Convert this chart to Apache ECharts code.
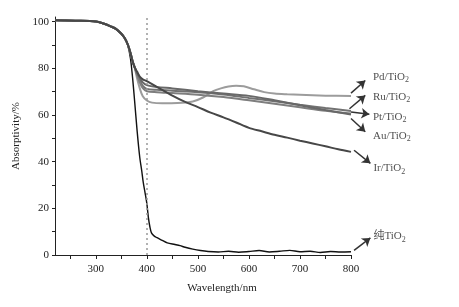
<!DOCTYPE html>
<html>
<head>
<meta charset="utf-8">
<script src="https://cdn.jsdelivr.net/npm/echarts@6/dist/echarts.min.js"></script>
<style>
  html, body { margin: 0; padding: 0; background: #fff; }
  #chart { width: 459px; height: 307px; }
</style>
</head>
<body>
<div id="chart"></div>
<script>
// 各样品的吸收曲线 [波长 nm, 吸收率 %]
const shoulder = [[220,100.6],[260,100.4],[300,100.1],[315,99.2],[330,97.9],[340,96.8],[350,94.8],[357,92.8],[363,90],[368,86.5],[372,83],[376,80.5]];

const pureTiO2 = [[220,100.6],[260,100.4],[300,100.1],[315,99.2],[330,97.9],[340,96.8],[350,94.8],[357,92.8],[363,89.5],[368,84],[372,76],[376,66],[381,53],[386,42],[390,36],[393,31],[397,26],[400,22],[403,16],[406,12],[409,9.5],[414,8.2],[420,7.4],[430,6.3],[440,5.2],[455,4.5],[465,4.0],[475,3.3],[490,2.5],[505,1.9],[520,1.5],[540,1.3],[560,1.6],[580,1.2],[600,1.5],[620,1.9],[640,1.3],[660,1.6],[680,2.0],[700,1.4],[720,1.6],[740,1.1],[760,1.5],[780,1.3],[800,1.4]];

const irTiO2 = shoulder.concat([[381,78.5],[386,76.5],[392,75.3],[400,74.5],[420,72],[450,68.3],[475,65.6],[500,63.4],[525,61],[550,59],[575,56.8],[600,54.5],[625,53],[650,51.5],[675,50.3],[700,49],[725,47.8],[750,46.6],[775,45.3],[800,44.2]]);

const auTiO2 = shoulder.concat([[381,78],[386,76],[392,74],[400,72.8],[420,72],[450,71.4],[500,70.2],[550,69.2],[600,68.2],[650,66.3],[700,64.2],[750,62.1],[800,60.2]]);

const ruTiO2 = shoulder.concat([[381,77.5],[386,75],[392,72.5],[400,71.2],[420,70.8],[450,70.4],[500,69.8],[550,68.8],[600,67.3],[650,65.9],[700,64.4],[750,63],[800,61.7]]);

const ptTiO2 = shoulder.concat([[381,77],[386,74],[392,71.5],[400,70.2],[420,69.8],[450,69.4],[500,68.7],[550,67.7],[600,66.3],[650,64.8],[700,63.3],[750,61.8],[800,60.6]]);

const pdTiO2 = shoulder.concat([[381,75.5],[386,71.5],[392,68],[400,66.2],[410,65.3],[430,65],[460,65.1],[490,65.8],[510,67.5],[530,70.2],[545,71.4],[560,72.2],[575,72.5],[590,72.3],[610,71],[630,69.8],[650,69.2],[675,68.9],[700,68.7],[750,68.3],[800,68.1]]);

// 坐标轴刻度
const xTicks = [250,300,350,400,450,500,550,600,650,700,750,800];
const xLabels = [300,400,500,600,700,800];
const yTicks = [0,10,20,30,40,50,60,70,80,90,100];
const yLabels = [0,20,40,60,80,100];

// 右侧标注 (数据坐标)
const labelNames = ['Pd/TiO', 'Ru/TiO', 'Pt/TiO', 'Au/TiO', 'Ir/TiO', '纯TiO'];
const arrowFrom = [[800,69.4],[797,62.7],[800,61.3],[800,58.5],[806,44.9],[806,2.0]];
const arrowTo = [[828,74.8],[828,68.4],[836,60.3],[828,52.8],[838,39.3],[838,7.3]];
const labelAt = [[843,76.2],[843,67.7],[843,59.2],[843,50.9],[844,37.1],[844,7.9]];

const serif = 'Liberation Serif, Times New Roman, Noto Sans CJK SC, serif';

const myChart = echarts.init(document.getElementById('chart'));

function curve(name, data, color, width, z) {
  return {
    name: name,
    type: 'line',
    data: data,
    symbol: 'none',
    smooth: 0.3,
    clip: false,
    lineStyle: { color: color, width: width },
    z: z
  };
}

const option = {
  animation: false,
  grid: { left: 55, right: 108, top: 17, bottom: 52 },
  xAxis: {
    type: 'value',
    min: 220,
    max: 800,
    name: 'Wavelength/nm',
    nameLocation: 'middle',
    nameGap: 28,
    nameTextStyle: { fontFamily: serif, fontSize: 11, color: '#222', padding: [0, 0, 0, 38] },
    splitLine: { show: false },
    axisLine: { lineStyle: { color: '#222', width: 1 } },
    axisTick: { length: 4, customValues: xTicks, lineStyle: { color: '#222' } },
    axisLabel: { customValues: xLabels, fontFamily: serif, fontSize: 11, color: '#222', margin: 9 }
  },
  yAxis: {
    type: 'value',
    min: 0,
    max: 102,
    name: 'Absorptivity/%',
    nameLocation: 'middle',
    nameGap: 26,
    nameRotate: 90,
    nameTextStyle: { fontFamily: serif, fontSize: 11, color: '#222' },
    splitLine: { show: false },
    axisLine: { show: true, lineStyle: { color: '#222', width: 1 } },
    axisTick: { length: 3, customValues: yTicks, lineStyle: { color: '#222' } },
    axisLabel: { customValues: yLabels, fontFamily: serif, fontSize: 11, color: '#222', margin: 6 }
  },
  series: [
    Object.assign(curve('纯TiO2', pureTiO2, '#111', 1.4, 2), {
      markLine: {
        silent: true,
        symbol: 'none',
        label: { show: false },
        lineStyle: { color: '#999', type: [2, 3], width: 1.5 },
        data: [{ xAxis: 400 }]
      }
    }),
    curve('Pd/TiO2', pdTiO2, '#9c9c9c', 2, 3),
    curve('Ru/TiO2', ruTiO2, '#727272', 2, 3),
    curve('Pt/TiO2', ptTiO2, '#7e7e7e', 2, 3),
    curve('Au/TiO2', auTiO2, '#686868', 2, 3),
    curve('Ir/TiO2', irTiO2, '#474747', 2, 3),
    {
      name: 'arrows',
      type: 'lines',
      coordinateSystem: 'cartesian2d',
      clip: false,
      silent: true,
      symbol: ['none', 'arrow'],
      symbolSize: 8,
      lineStyle: { color: '#333', width: 1.5, opacity: 1 },
      data: arrowFrom.map((p, i) => ({ coords: [p, arrowTo[i]] })),
      z: 4
    },
    {
      name: 'labels',
      type: 'scatter',
      clip: false,
      silent: true,
      symbolSize: 0,
      data: labelAt.map((p, i) => [p[0], p[1], labelNames[i]]),
      label: {
        show: true,
        position: 'right',
        distance: 0,
        formatter: (p) => '{m|' + p.value[2] + '}{s|2}',
        rich: {
          m: { fontFamily: serif, fontSize: 11, color: '#222' },
          s: { fontFamily: serif, fontSize: 8, color: '#222', padding: [6, 0, 0, 0] }
        }
      },
      z: 4
    }
  ]
};

myChart.setOption(option);
</script>
</body>
</html>
